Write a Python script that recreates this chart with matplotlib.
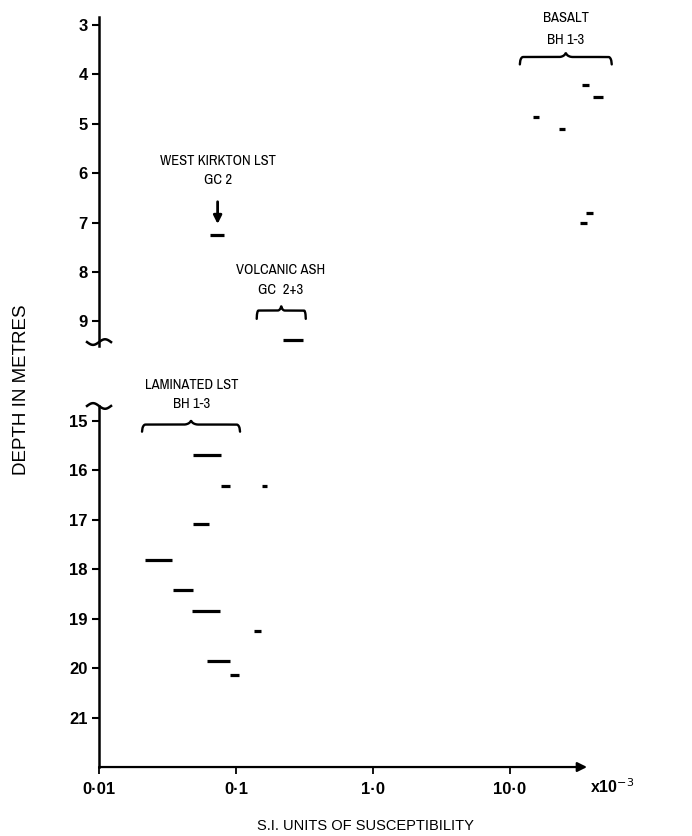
import numpy as np
import matplotlib
matplotlib.use("Agg")
import matplotlib.pyplot as plt
from matplotlib import font_manager
from matplotlib.ticker import FixedLocator, FixedFormatter, NullLocator
from matplotlib.transforms import ScaledTranslation

plt.rcParams['font.family'] = ['Liberation Sans', 'DejaVu Sans']

# データ (深さ m, 帯磁率 x10^-3 SI の範囲)
basalt_depth = [4.22, 4.45, 4.87, 5.11, 6.80, 7.02]
basalt_lo = [33.4, 40.6, 14.6, 22.9, 35.9, 32.4]
basalt_hi = [37.8, 47.5, 16.4, 25.3, 40.1, 36.3]

kirkton_depth = [7.25]
kirkton_lo = [0.0646]
kirkton_hi = [0.0817]

ash_depth = [9.37]
ash_lo = [0.220]
ash_hi = [0.308]

lam_depth = [15.70, 16.31, 16.31, 17.08, 17.81, 18.43, 18.84, 19.24, 19.85, 20.14]
lam_lo = [0.0483, 0.0777, 0.154, 0.0483, 0.0216, 0.0345, 0.0475, 0.135, 0.0614, 0.0903]
lam_hi = [0.0777, 0.0903, 0.168, 0.0635, 0.0341, 0.0483, 0.0764, 0.151, 0.0903, 0.105]

x_ticks = [0.01, 0.1, 1.0, 10.0]
x_labels = ['0·01', '0·1', '1·0', '10·0']
top_ticks = [3, 4, 5, 6, 7, 8, 9]
bot_ticks = [15, 16, 17, 18, 19, 20, 21]

# 細めのフォントがあれば使う
names = {f.name for f in font_manager.fontManager.ttflist}
narrow = [n for n in sorted(names) if 'Narrow' in n or 'Condensed' in n]
has_narrow = len(narrow) > 0
narrow = narrow[:1] + ['Liberation Sans', 'DejaVu Sans']

fig = plt.figure(figsize=(6.92, 8.36), dpi=100)
ax_top = fig.add_axes([0.1431, 0.5861, 0.7052, 0.3936])
ax_bot = fig.add_axes([0.1431, 0.0825, 0.7052, 0.4319])

for ax in (ax_top, ax_bot):
    ax.set_xscale('log')
    ax.set_xlim(0.01, 36.5)
    for s in ('top', 'right', 'bottom'):
        ax.spines[s].set_visible(False)
    ax.spines['left'].set_linewidth(1.8)
    ax.xaxis.set_minor_locator(NullLocator())
    ax.tick_params(axis='y', length=5, width=1.5, pad=3, labelsize=12)
    ax.patch.set_alpha(0)

ax_top.set_ylim(9.5, 2.84)
ax_bot.set_ylim(22.0, 14.7)
ax_top.yaxis.set_major_locator(FixedLocator(top_ticks))
ax_bot.yaxis.set_major_locator(FixedLocator(bot_ticks))
for ax in (ax_top, ax_bot):
    for lab in ax.get_yticklabels():
        lab.set_fontweight('bold')

ax_top.set_xticks([])
ax_bot.xaxis.set_major_locator(FixedLocator(x_ticks))
ax_bot.xaxis.set_major_formatter(FixedFormatter(x_labels))
ax_bot.tick_params(axis='x', length=5, width=1.3, pad=6, labelsize=12)
for lab in ax_bot.get_xticklabels():
    lab.set_fontweight('bold')

# x軸の矢印
ax_bot.annotate('', xy=(1.0, 0), xytext=(0, 0), xycoords='axes fraction',
                arrowprops=dict(arrowstyle='-|>', lw=1.6, color='black',
                                mutation_scale=14, shrinkA=0, shrinkB=0))
ax_bot.text(1.006, -0.055, r'x10$^{-3}$', transform=ax_bot.transAxes,
            ha='left', va='center', fontsize=11.5, fontweight='bold')

# 測定値（横線）
seg = dict(colors='black', lw=2.3, clip_on=False)
ax_top.hlines(basalt_depth, basalt_lo, basalt_hi, **seg)
ax_top.hlines(kirkton_depth, kirkton_lo, kirkton_hi, **seg)
ax_top.hlines(ash_depth, ash_lo, ash_hi, **seg)
ax_bot.hlines(lam_depth, lam_lo, lam_hi, **seg)


# 波括弧
def brace(ax, x0, x1, d_top, d_bot):
    t = np.linspace(0, 1, 200)
    u = np.where(t <= 0.5, t / 0.5, (1 - t) / 0.5)
    g = np.sqrt(1 - (1 - np.clip(u / 0.07, 0, 1)) ** 2)
    w = np.clip((u - 0.85) / 0.15, 0, 1)
    h = 1 - np.sqrt(1 - w ** 2)
    frac = 0.6 * g + 0.4 * h
    lx = np.log10(x0) + t * (np.log10(x1) - np.log10(x0))
    d = d_bot - frac * (d_bot - d_top)
    ax.plot(10 ** lx, d, color='black', lw=1.7, clip_on=False,
            solid_capstyle='round')


brace(ax_top, 11.8, 55.3, 3.55, 3.80)
brace(ax_top, 0.1416, 0.323, 8.67, 8.95)
brace(ax_bot, 0.0206, 0.107, 14.98, 15.22)

if has_narrow:
    lab = dict(ha='center', va='center', fontsize=10.5, fontweight='bold',
               family=narrow)
else:
    lab = dict(ha='center', va='center', fontsize=9.5, family=narrow)
ax_top.text(25.6, 2.86, 'BASALT', **lab)
ax_top.text(25.6, 3.30, 'BH 1-3', **lab)
ax_top.text(0.0734, 5.76, 'WEST KIRKTON LST', **lab)
ax_top.text(0.0734, 6.14, 'GC 2', **lab)
ax_top.text(0.212, 7.96, 'VOLCANIC ASH', **lab)
ax_top.text(0.212, 8.37, 'GC  2+3', **lab)
ax_bot.text(0.0476, 14.27, 'LAMINATED LST', **lab)
ax_bot.text(0.0476, 14.67, 'BH 1-3', **lab)

ax_top.annotate('', xy=(0.0734, 7.03), xytext=(0.0734, 6.58),
                arrowprops=dict(arrowstyle='-|>', lw=2.0, color='black',
                                mutation_scale=12, shrinkA=0, shrinkB=0))


# 軸の切れ目の波線
def squiggle(ax, y_axes, sign):
    trans = fig.dpi_scale_trans + ScaledTranslation(0, y_axes, ax.transAxes)
    px = np.linspace(-12, 12, 60)
    py = sign * 2.8 * np.sin(2 * np.pi * px / 24)
    ax.plot(px / 100, py / 100, color='black', lw=1.8, transform=trans,
            clip_on=False)


squiggle(ax_top, 0.012, 1)
squiggle(ax_bot, 1.0, -1)

fig.text(22 / 692, 1 - 390 / 836, 'DEPTH IN METRES', rotation=90,
         ha='center', va='center', fontsize=13.5)
fig.text(365 / 692, 1 - 826 / 836, 'S.I. UNITS OF SUSCEPTIBILITY',
         ha='center', va='center', fontsize=10.5)

fig.savefig('out.png', dpi=100)
